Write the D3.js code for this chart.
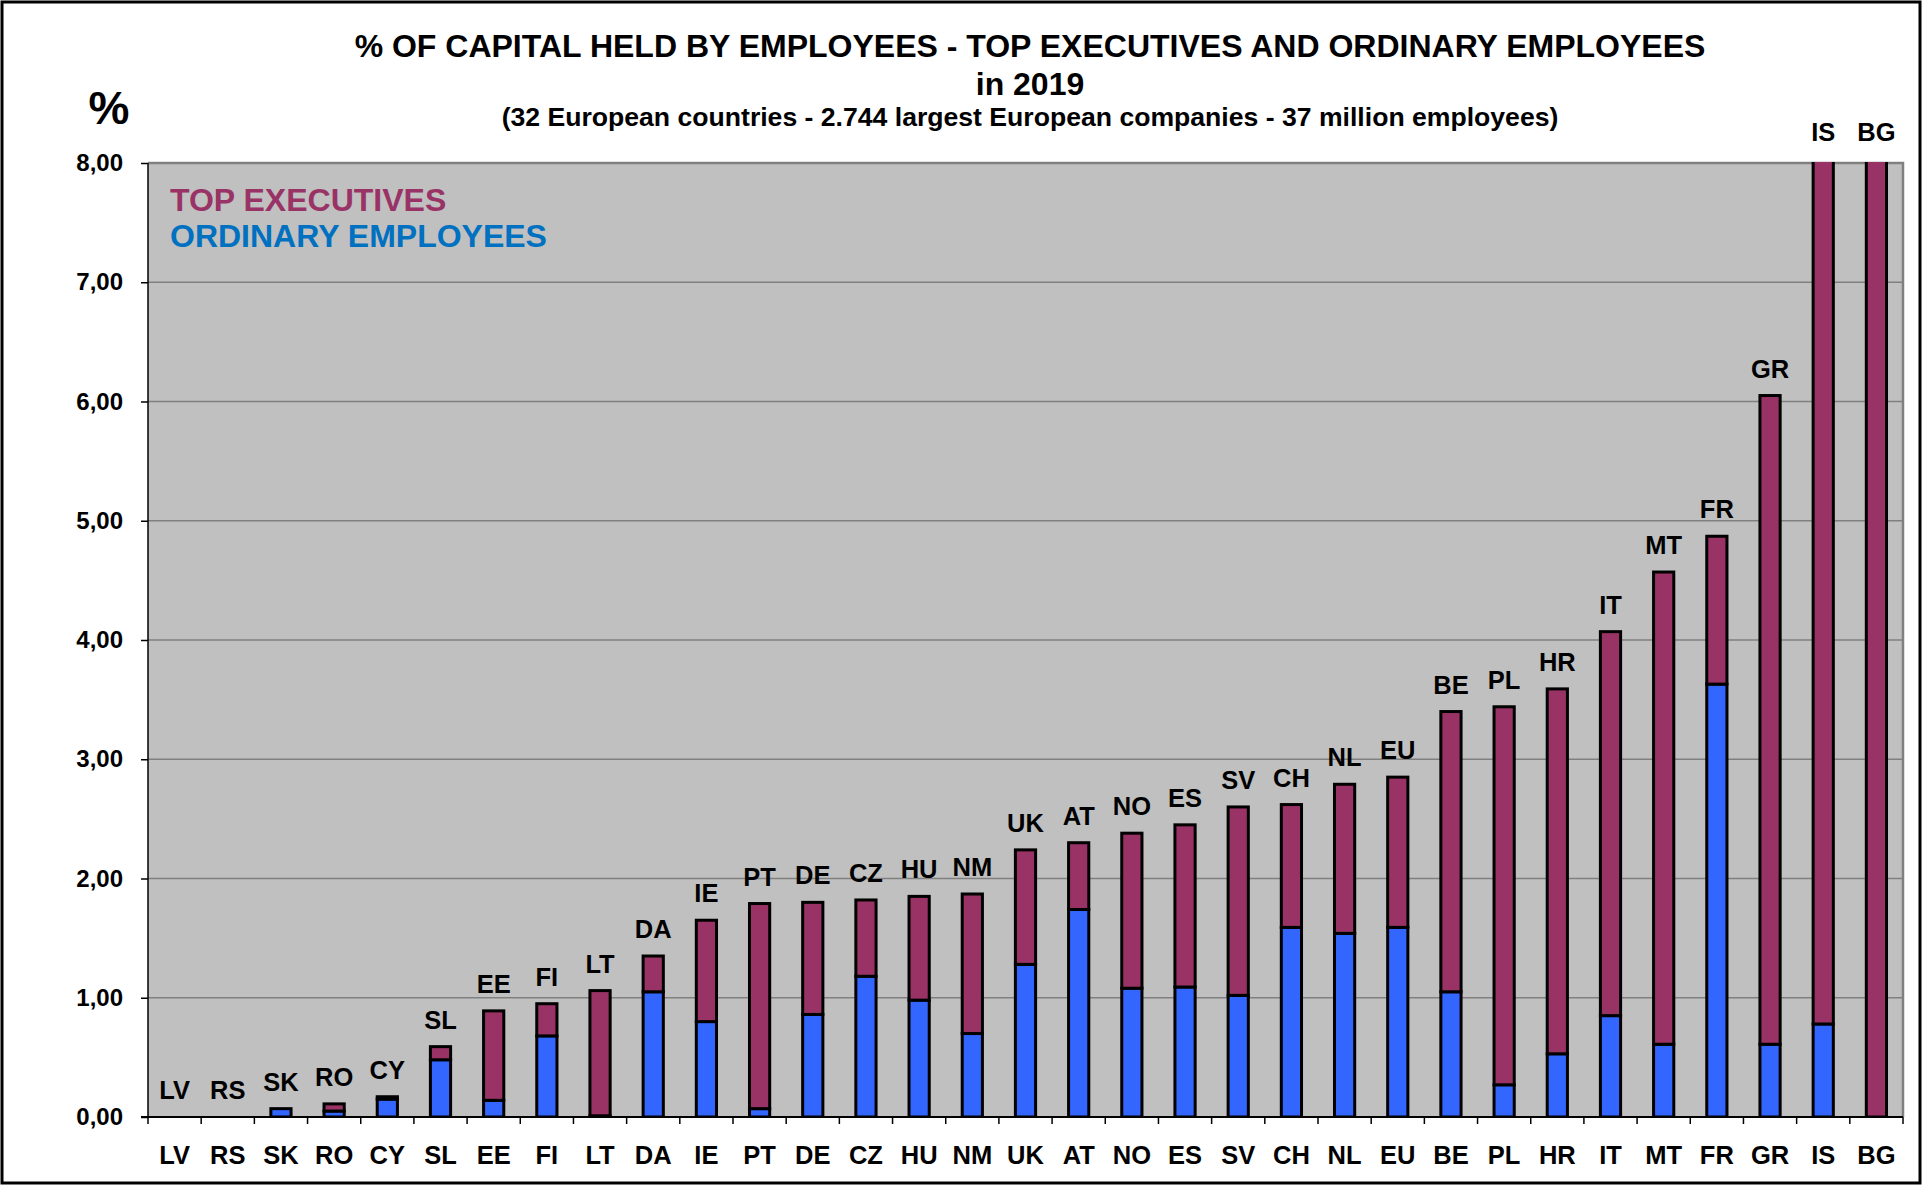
<!DOCTYPE html>
<html>
<head>
<meta charset="utf-8">
<script src="https://cdn.jsdelivr.net/npm/d3@7"></script>
<style>
  body { margin: 0; background: #fff; }
  text { font-family: Arial, "Liberation Sans", sans-serif; font-weight: bold; }
</style>
</head>
<body>
<svg id="chart" width="1923" height="1185"></svg>
<script>
// data (% of capital)
var countries = ["LV","RS","SK","RO","CY","SL","EE","FI","LT","DA","IE","PT","DE","CZ","HU","NM",
                 "UK","AT","NO","ES","SV","CH","NL","EU","BE","PL","HR","IT","MT","FR","GR","IS","BG"];
var ordinary = [0, 0, 0.07, 0.05, 0.15, 0.48, 0.14, 0.68, 0.01, 1.05, 0.80, 0.07, 0.86, 1.18, 0.98, 0.70,
                1.28, 1.74, 1.08, 1.09, 1.02, 1.59, 1.54, 1.59, 1.05, 0.27, 0.53, 0.85, 0.61, 3.63, 0.61, 0.78, 0];
var topExec = [0, 0, 0, 0.06, 0.02, 0.11, 0.75, 0.27, 1.05, 0.30, 0.85, 1.72, 0.94, 0.64, 0.87, 1.17,
               0.96, 0.56, 1.30, 1.36, 1.58, 1.03, 1.25, 1.26, 2.35, 3.17, 3.06, 3.22, 3.96, 1.24, 5.44, 9.2, 11.0];
var yTicks = [0, 1, 2, 3, 4, 5, 6, 7, 8];
var seriesNames = ["TOP EXECUTIVES", "ORDINARY EMPLOYEES"];

var purple = "#993366", blue = "#3366FF";
var plotLeft = 148, plotRight = 1903, plotTop = 163, plotBottom = 1117;

var svg = d3.select("#chart");
var defs = svg.append("defs");

var rows = countries.map(function(c, i) {
    return {country: c, ordinary: ordinary[i], top: topExec[i]};
});
var stacked = d3.stack().keys(["ordinary", "top"])(rows);

var x = d3.scaleBand().domain(countries).range([plotLeft, plotRight])
    .paddingInner(0.62).paddingOuter(0.31);
var y = d3.scaleLinear().domain([0, 8]).range([plotBottom, plotTop]);

// outer frame
svg.append("rect").attr("x", 2).attr("y", 2).attr("width", 1918).attr("height", 1181)
    .attr("fill", "#fff").attr("stroke", "#000").attr("stroke-width", 3);

// plot area
svg.append("rect").attr("x", plotLeft).attr("y", plotTop)
    .attr("width", plotRight - plotLeft).attr("height", plotBottom - plotTop)
    .attr("fill", "#C0C0C0");

svg.append("g").selectAll("line").data(yTicks.slice(1, -1)).enter().append("line")
    .attr("x1", plotLeft).attr("x2", plotRight)
    .attr("y1", function(d) { return y(d); }).attr("y2", function(d) { return y(d); })
    .attr("stroke", "#808080").attr("stroke-width", 1.5);

// gray top/right border
svg.append("path")
    .attr("d", "M" + plotLeft + "," + plotTop + "L" + plotRight + "," + plotTop + "L" + plotRight + "," + plotBottom)
    .attr("fill", "none").attr("stroke", "#808080").attr("stroke-width", 2.5);

defs.append("clipPath").attr("id", "plotclip")
    .append("rect").attr("x", plotLeft).attr("y", plotTop - 1)
    .attr("width", plotRight - plotLeft).attr("height", plotBottom - plotTop + 2);

var colors = {ordinary: blue, top: purple};
var bars = svg.append("g").attr("clip-path", "url(#plotclip)");
stacked.forEach(function(layer) {
    bars.append("g").selectAll("rect")
        .data(layer.filter(function(d) { return d[1] - d[0] > 0; }))
        .enter().append("rect")
        .attr("x", function(d) { return x(d.data.country); })
        .attr("width", x.bandwidth())
        .attr("y", function(d) { return y(d[1]); })
        .attr("height", function(d) { return y(d[0]) - y(d[1]); })
        .attr("fill", colors[layer.key])
        .attr("stroke", "#000").attr("stroke-width", 3);
});

// labels above bars
svg.append("g").selectAll("text").data(rows).enter().append("text")
    .attr("x", function(d) { return x(d.country) + x.bandwidth() / 2; })
    .attr("y", function(d) {
        var t = d.ordinary + d.top;
        return t > 8 ? plotTop - 22 : y(t) - 18;
    })
    .attr("text-anchor", "middle").attr("font-size", 25.5)
    .text(function(d) { return d.country; });

// y axis
var yAxis = d3.axisLeft(y).tickValues(yTicks).tickSize(7).tickPadding(18)
    .tickFormat(function(d) { return d3.format(".2f")(d).replace(".", ","); });
var gy = svg.append("g").attr("transform", "translate(" + plotLeft + ",0)").call(yAxis);
gy.select(".domain").remove();
gy.selectAll("line").attr("stroke", "#000").attr("stroke-width", 1.5);
gy.selectAll("text").attr("font-size", 24).attr("fill", "#000")
    .style("font-family", "Arial, 'Liberation Sans', sans-serif").style("font-weight", "bold");
svg.append("line").attr("x1", plotLeft).attr("x2", plotLeft).attr("y1", plotTop).attr("y2", plotBottom)
    .attr("stroke", "#000").attr("stroke-width", 1.5);

// x axis
var xAxis = d3.axisBottom(x).tickSize(0).tickPadding(29);
var gx = svg.append("g").attr("transform", "translate(0," + plotBottom + ")").call(xAxis);
gx.select(".domain").remove();
gx.selectAll("text").attr("font-size", 25.5).attr("fill", "#000")
    .style("font-family", "Arial, 'Liberation Sans', sans-serif").style("font-weight", "bold");
var bounds = countries.map(function(c) { return x(c) - x.step() * x.paddingOuter(); });
bounds.push(plotRight);
svg.append("g").selectAll("line").data(bounds).enter().append("line")
    .attr("x1", function(d) { return d; }).attr("x2", function(d) { return d; })
    .attr("y1", plotBottom).attr("y2", plotBottom + 7)
    .attr("stroke", "#000").attr("stroke-width", 1.5);
svg.append("line").attr("x1", plotLeft - 7).attr("x2", plotRight).attr("y1", plotBottom).attr("y2", plotBottom)
    .attr("stroke", "#000").attr("stroke-width", 2);

// legend
var legend = svg.append("g");
legend.selectAll("text").data(seriesNames).enter().append("text")
    .attr("x", 170).attr("y", function(d, i) { return 211 + i * 36; })
    .attr("font-size", 32)
    .attr("fill", function(d, i) { return i === 0 ? purple : "#0070C0"; })
    .text(function(d) { return d; });

// titles
svg.append("text").attr("x", 1030).attr("y", 57).attr("text-anchor", "middle")
    .attr("font-size", 32).text("% OF CAPITAL HELD BY EMPLOYEES - TOP EXECUTIVES AND ORDINARY EMPLOYEES");
svg.append("text").attr("x", 1030).attr("y", 95).attr("text-anchor", "middle")
    .attr("font-size", 32).text("in 2019");
svg.append("text").attr("x", 1030).attr("y", 126).attr("text-anchor", "middle")
    .attr("font-size", 26.6).text("(32 European countries - 2.744 largest European companies - 37 million employees)");
svg.append("text").attr("x", 109).attr("y", 124).attr("text-anchor", "middle")
    .attr("font-size", 46).text("%");
</script>
</body>
</html>
